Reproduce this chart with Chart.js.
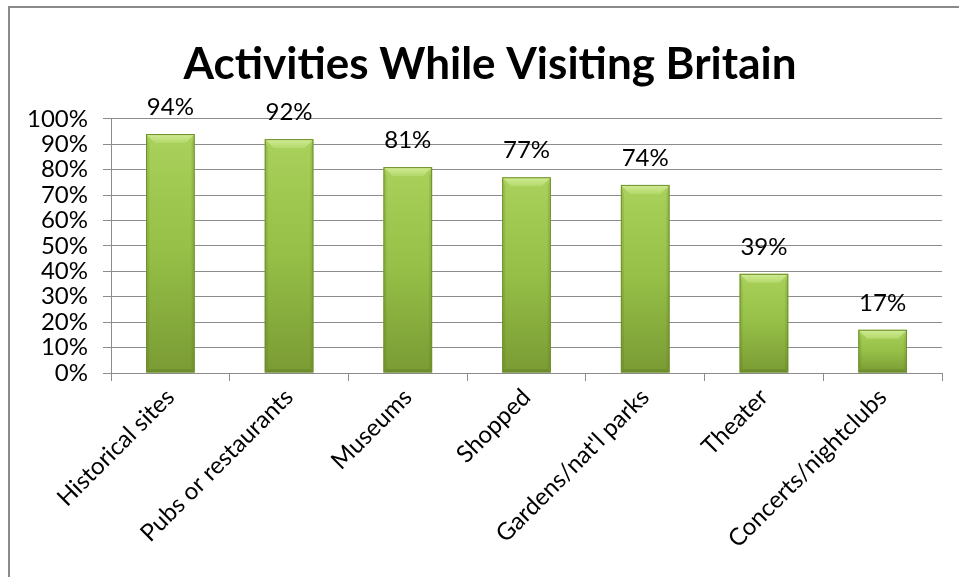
<!DOCTYPE html>
<html>
<head>
<meta charset="utf-8">
<title>Activities While Visiting Britain</title>
<script src="https://cdn.jsdelivr.net/npm/chart.js@4.4.1/dist/chart.umd.min.js"></script>
<style>
  html, body { margin: 0; padding: 0; background: #fff; }
  #wrap { position: relative; width: 959px; height: 577px; overflow: hidden; }
  #frame {
    position: absolute; left: 8px; top: 6px; right: 0; bottom: 0;
    border-top: 2px solid #8a8a8a; border-left: 2px solid #8a8a8a;
  }
  #chart { position: absolute; left: 0; top: 0; }
</style>
</head>
<body>
<div id="wrap">
  <div id="frame"></div>
  <canvas id="chart" width="959" height="577"></canvas>
</div>
<script>
// chart data
const titleText = "Activities While Visiting Britain";
const categories = ["Historical sites", "Pubs or restaurants", "Museums", "Shopped",
                    "Gardens/nat'l parks", "Theater", "Concerts/nightclubs"];
const percents = [94, 92, 81, 77, 74, 39, 17];
const yTicks = [0, 10, 20, 30, 40, 50, 60, 70, 80, 90, 100];

const FONT = "Lato, 'Open Sans', sans-serif";
const GRID = "#8c8c8c";

// vertical gradient per bar, from its top down to the axis
function barFill(ctx) {
  const chart = ctx.chart;
  const y = chart.scales.y;
  if (!y || !chart.chartArea) return "#9bc348";
  const top = y.getPixelForValue(ctx.raw);
  const bottom = y.getPixelForValue(0);
  const g = chart.ctx.createLinearGradient(0, top, 0, bottom);
  g.addColorStop(0, "#a9d15b");
  g.addColorStop(0.5, "#95bf47");
  g.addColorStop(1, "#7a9b34");
  return g;
}

// bevel look on top of each bar
const bevelPlugin = {
  id: "bevel",
  afterDatasetsDraw(chart) {
    const c = chart.ctx;
    const meta = chart.getDatasetMeta(0);
    meta.data.forEach((bar) => {
      const p = bar.getProps(["x", "y", "width", "base"], true);
      const l = p.x - p.width / 2, r = p.x + p.width / 2;
      const t = p.y, b = p.base;
      const s = Math.min(9, (b - t) / 2);
      c.save();
      // top facet
      c.beginPath();
      c.moveTo(l, t); c.lineTo(r, t); c.lineTo(r - s, t + s); c.lineTo(l + s, t + s); c.closePath();
      const tg = c.createLinearGradient(0, t, 0, t + s);
      tg.addColorStop(0, "#d2ec96");
      tg.addColorStop(1, "#b3d86a");
      c.fillStyle = tg; c.fill();
      // side facets
      c.fillStyle = "rgba(60,90,10,0.12)";
      c.beginPath();
      c.moveTo(l, t); c.lineTo(l + s * 0.35, t + s); c.lineTo(l + s * 0.35, b - s * 0.35); c.lineTo(l, b); c.closePath(); c.fill();
      c.beginPath();
      c.moveTo(r, t); c.lineTo(r - s * 0.35, t + s); c.lineTo(r - s * 0.35, b - s * 0.35); c.lineTo(r, b); c.closePath(); c.fill();
      // bottom facet
      c.fillStyle = "rgba(50,80,10,0.18)";
      c.beginPath();
      c.moveTo(l, b); c.lineTo(r, b); c.lineTo(r - s * 0.35, b - s * 0.35); c.lineTo(l + s * 0.35, b - s * 0.35); c.closePath(); c.fill();
      // outline
      c.strokeStyle = "#6f8f2c"; c.lineWidth = 1;
      c.strokeRect(l + 0.5, t + 0.5, p.width - 1, b - t - 1);
      c.restore();
    });
  }
};

// value labels above bars
const valueLabels = {
  id: "valueLabels",
  afterDatasetsDraw(chart) {
    const c = chart.ctx;
    const meta = chart.getDatasetMeta(0);
    c.save();
    c.font = "24px " + FONT;
    c.fillStyle = "#000";
    c.textAlign = "center";
    c.textBaseline = "alphabetic";
    meta.data.forEach((bar, i) => {
      c.fillText(percents[i] + "%", bar.x, bar.y - 19);
    });
    c.restore();
  }
};

// nudge the title a little to the right, as in the original
const titleShift = {
  id: "titleShift",
  afterLayout(chart) {
    if (chart.titleBlock) chart.titleBlock.left += 38;
  }
};

new Chart(document.getElementById("chart"), {
  type: "bar",
  data: {
    labels: categories,
    datasets: [{
      label: "Activities",
      data: percents,
      backgroundColor: barFill,
      borderWidth: 0,
      categoryPercentage: 1,
      barPercentage: 0.41
    }]
  },
  options: {
    responsive: false,
    animation: false,
    layout: { padding: { left: 0, right: 17, top: 0, bottom: 0 } },
    plugins: {
      legend: { display: false },
      tooltip: { enabled: false },
      title: {
        display: true,
        text: titleText,
        color: "#000",
        font: { family: FONT, size: 44, weight: "bold" },
        padding: { top: 38, bottom: 28 }
      }
    },
    scales: {
      x: {
        offset: true,
        grid: { display: true, drawOnChartArea: false, drawTicks: true, tickLength: 8, color: GRID, offset: true },
        border: { color: GRID, width: 1 },
        ticks: { color: "#000", font: { family: FONT, size: 24 }, minRotation: 45, maxRotation: 45, padding: 2, autoSkip: false },
        afterFit(scale) { scale.height = 204; }
      },
      y: {
        min: 0,
        max: 100,
        afterBuildTicks(scale) { scale.ticks = yTicks.map(v => ({ value: v })); },
        grid: { color: GRID, tickLength: 8, drawTicks: true },
        border: { color: GRID, width: 1 },
        ticks: {
          color: "#000",
          font: { family: FONT, size: 24 },
          padding: 15,
          autoSkip: false,
          callback: (v) => v + "%"
        },
        afterFit(scale) { scale.width = 111; }
      }
    }
  },
  plugins: [bevelPlugin, valueLabels, titleShift]
});
</script>
</body>
</html>
